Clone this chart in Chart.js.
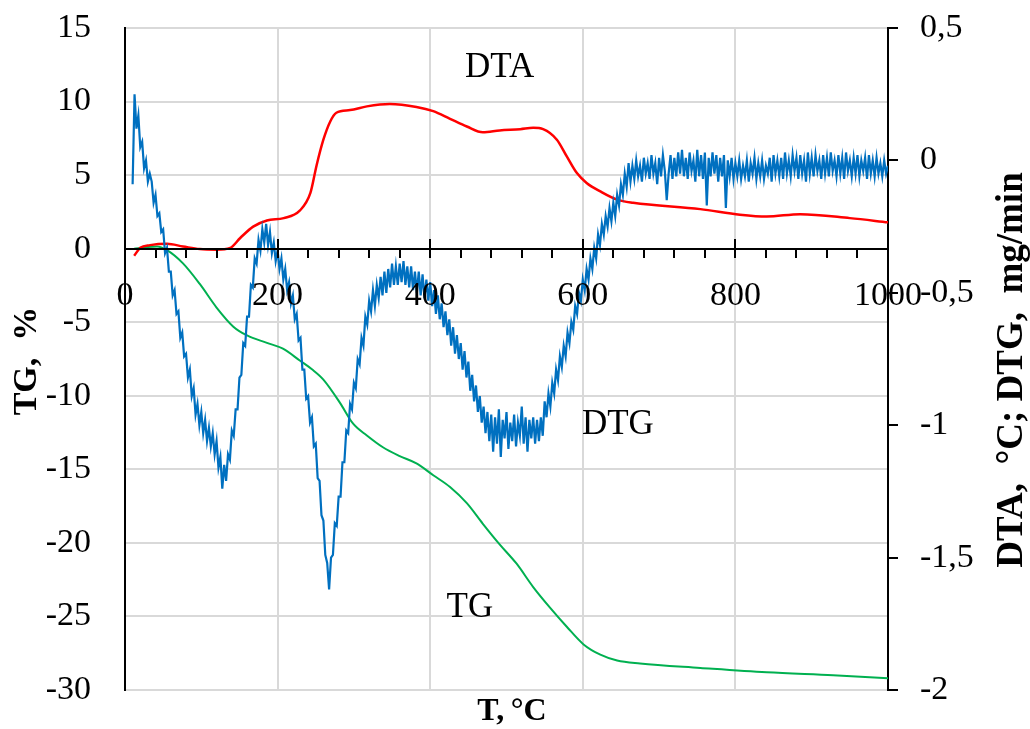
<!DOCTYPE html>
<html>
<head>
<meta charset="utf-8">
<script src="https://cdn.jsdelivr.net/npm/chart.js@4.4.1/dist/chart.umd.min.js"></script>
<style>
  html, body { margin: 0; padding: 0; background: #fff; }
  #wrap { width: 1030px; height: 729px; position: relative; }
</style>
</head>
<body>
<div id="wrap"><canvas id="chart" width="1030" height="729"></canvas></div>
<script>
// TG / DTA / DTG thermal analysis curves.
// TG on the left axis (%), DTA and DTG on the right axis.

// --------------------- Data ---------------------
const tgT = [12, 28, 42, 55, 76, 98, 120, 142, 160, 186, 207, 229, 245, 260, 282, 299, 317, 338, 360, 382,
  404, 426, 448, 469, 491, 513, 535, 557, 579, 601, 623, 645, 675, 754, 841, 928, 1000];
const tgV = [0.0, 0.1, 0.15, -0.1, -1.0, -2.4, -4.0, -5.3, -5.9, -6.4, -6.8, -7.6, -8.2, -8.9, -10.5, -11.9, -12.7, -13.5, -14.1, -14.6,
  -15.4, -16.2, -17.3, -18.7, -20.1, -21.4, -23.0, -24.4, -25.7, -26.9, -27.6, -28.0, -28.2, -28.5, -28.8, -29.0, -29.2];

const dtaT = [12, 20, 33, 55, 76, 98, 120, 138, 151, 168, 186, 208, 229, 243, 251, 260, 269, 277, 295, 317,
  347, 382, 404, 426, 448, 469, 491, 518, 535, 548, 566, 579, 592, 605, 623, 645, 666, 754, 806, 841, 885, 950, 1000];
const dtaV = [-0.36, -0.33, -0.32, -0.315, -0.325, -0.335, -0.337, -0.33, -0.293, -0.25, -0.227, -0.218, -0.19, -0.123, -0.02, 0.078, 0.147, 0.18, 0.19, 0.204,
  0.213, 0.202, 0.186, 0.157, 0.128, 0.106, 0.113, 0.118, 0.123, 0.118, 0.078, 0.015, -0.047, -0.085, -0.117, -0.148, -0.16, -0.184, -0.205, -0.212, -0.203, -0.218, -0.234];

const dtgStart = 10, dtgStep = 2.5;
const dtgV = [
  -0.09, 0.25, 0.12, 0.17, 0.05, 0.07, -0.03, 0.00, -0.08, -0.05,       // 10
  -0.08, -0.16, -0.13, -0.21, -0.20, -0.27, -0.26, -0.35, -0.33, -0.42, // 35
  -0.42, -0.51, -0.49, -0.58, -0.57, -0.67, -0.65, -0.74, -0.73, -0.82, // 60
  -0.79, -0.89, -0.86, -0.96, -0.92, -1.00, -0.95, -1.03, -0.98, -1.06, // 85
  -1.01, -1.08, -1.03, -1.11, -1.06, -1.16, -1.12, -1.24, -1.15, -1.21, // 110
  -1.11, -1.13, -1.02, -1.04, -0.94, -0.94, -0.82, -0.81, -0.69, -0.70, // 135
  -0.59, -0.59, -0.47, -0.48, -0.37, -0.39, -0.30, -0.34, -0.26, -0.31, // 160
  -0.24, -0.32, -0.27, -0.35, -0.31, -0.38, -0.34, -0.41, -0.37, -0.45, // 185
  -0.41, -0.49, -0.46, -0.54, -0.51, -0.60, -0.58, -0.68, -0.67, -0.79, // 210
  -0.79, -0.90, -0.89, -0.99, -0.97, -1.08, -1.07, -1.20, -1.21, -1.34, // 235
  -1.36, -1.49, -1.52, -1.62, -1.50, -1.49, -1.37, -1.38, -1.27, -1.27, // 260
  -1.14, -1.14, -1.02, -1.03, -0.92, -0.94, -0.84, -0.86, -0.75, -0.77, // 285
  -0.67, -0.70, -0.59, -0.62, -0.53, -0.57, -0.49, -0.55, -0.47, -0.52, // 310
  -0.44, -0.51, -0.42, -0.50, -0.41, -0.48, -0.39, -0.47, -0.40, -0.47, // 335
  -0.39, -0.46, -0.38, -0.47, -0.40, -0.48, -0.40, -0.49, -0.42, -0.50, // 360
  -0.42, -0.51, -0.43, -0.52, -0.45, -0.53, -0.46, -0.55, -0.49, -0.58, // 385
  -0.51, -0.60, -0.54, -0.63, -0.57, -0.66, -0.60, -0.70, -0.63, -0.73, // 410
  -0.66, -0.75, -0.69, -0.79, -0.72, -0.82, -0.76, -0.87, -0.81, -0.91, // 435
  -0.85, -0.95, -0.89, -0.99, -0.93, -1.03, -0.95, -1.06, -0.96, -1.10, // 460
  -0.97, -1.07, -0.94, -1.12, -0.98, -1.05, -0.95, -1.09, -0.99, -1.06, // 485
  -0.96, -1.08, -0.99, -1.04, -0.93, -1.07, -0.97, -1.10, -0.98, -1.05, // 510
  -0.97, -1.07, -0.98, -1.06, -0.97, -1.04, -0.91, -0.97, -0.88, -0.93, // 535
  -0.84, -0.88, -0.79, -0.83, -0.74, -0.78, -0.70, -0.74, -0.65, -0.69, // 560
  -0.61, -0.64, -0.55, -0.58, -0.50, -0.53, -0.45, -0.49, -0.41, -0.45, // 585
  -0.37, -0.41, -0.33, -0.37, -0.28, -0.32, -0.24, -0.28, -0.21, -0.25, // 610
  -0.18, -0.23, -0.16, -0.21, -0.13, -0.17, -0.09, -0.13, -0.05, -0.10, // 635
  -0.01, -0.08, -0.02, -0.07, 0.00, -0.06, -0.02, -0.08, 0.01, -0.05,   // 660
  -0.01, -0.07, 0.02, -0.05, -0.01, -0.09, 0.01, -0.06, 0.02, -0.04,    // 685
  -0.15, -0.05, 0.02, -0.07, 0.01, -0.06, 0.03, -0.05, 0.04, -0.06,     // 710
  0.01, -0.07, 0.03, -0.04, 0.00, -0.08, 0.04, -0.06, 0.02, -0.07,      // 735
  0.03, -0.17, 0.01, -0.06, 0.03, -0.05, 0.02, -0.08, 0.01, -0.06,      // 760
  0.02, -0.18, 0.00, -0.06, 0.01, -0.07, -0.01, -0.06, 0.00, -0.07,     // 785
  -0.02, -0.06, 0.00, -0.08, -0.01, -0.05, 0.01, -0.07, -0.01, -0.06,   // 810
  0.00, -0.07, -0.02, -0.05, 0.01, -0.08, 0.02, -0.05, 0.00, -0.06,     // 835
  0.01, -0.07, 0.03, -0.05, 0.00, -0.06, 0.02, -0.04, 0.01, -0.07,      // 860
  0.02, -0.05, 0.00, -0.08, 0.03, -0.05, 0.01, -0.06, 0.02, -0.04,      // 885
  0.00, -0.07, 0.02, -0.05, 0.01, -0.06, 0.03, -0.04, 0.00, -0.06,      // 910
  0.02, -0.05, 0.01, -0.07, 0.03, -0.04, 0.00, -0.06, 0.01, -0.05,      // 935
  0.02, -0.06, 0.00, -0.04, 0.01, -0.07, 0.02, -0.05, 0.00, -0.06,      // 960
  0.01, -0.05, -0.01, -0.06, 0.00, -0.05, -0.02                         // 985-1000
];

// Axis ranges / labels
const xMin = 0, xMax = 1000, xStep = 200, xMinorStep = 40;
const tgMin = -30, tgMax = 15, tgStep = 5;
const rMin = -2, rMax = 0.5, rStep = 0.5;
const xTitle = 'T,\u2009°C';
const tgTitle = 'TG,  %';
const rTitle = 'DTA,  °C; DTG,  mg/min';
// curve labels: [text, T, TG-axis value]
const curveLabels = [['DTA', 491, 12.3], ['DTG', 646, -12.0], ['TG', 452, -24.4]];

// --------------------- Helpers ---------------------
const pts = (xs, ys) => xs.map((x, i) => ({ x, y: ys[i] }));
const dtgPts = dtgV.map((v, i) => ({ x: dtgStart + i * dtgStep, y: v }));
const SERIF = "'Liberation Serif', 'Times New Roman', serif";
const GRID = '#d9d9d9';
const NONE = 'rgba(0,0,0,0)';

// --------------------- Decoration plugin ---------------------
// x axis sits on TG = 0, so its line, ticks and labels are drawn here;
// right-axis tick marks too (Chart.js tick length is used only as label offset)
const decor = {
  id: 'decor',
  afterDatasetsDraw(chart) {
    const { ctx, chartArea, scales: { x, y, y2 } } = chart;
    const y0 = Math.round(y.getPixelForValue(0));
    ctx.save();
    ctx.strokeStyle = '#000';
    ctx.lineWidth = 2;
    ctx.beginPath();
    ctx.moveTo(chartArea.left, y0);
    ctx.lineTo(chartArea.right, y0);
    ctx.stroke();
    for (let v = xMin; v <= xMax; v += xMinorStep) {
      const px = Math.round(x.getPixelForValue(v));
      const major = v % xStep === 0;
      ctx.beginPath();
      ctx.moveTo(px, major ? y0 - 10 : y0);
      ctx.lineTo(px, y0 + 9);
      ctx.stroke();
    }
    y2.ticks.forEach(t => {
      const py = Math.round(y2.getPixelForValue(t.value));
      ctx.beginPath();
      ctx.moveTo(chartArea.right, py);
      ctx.lineTo(chartArea.right + 10, py);
      ctx.stroke();
    });
    ctx.fillStyle = '#000';
    ctx.textAlign = 'center';
    ctx.textBaseline = 'middle';
    ctx.font = `34px ${SERIF}`;
    for (let v = xMin; v <= xMax; v += xStep) {
      ctx.fillText(String(v), x.getPixelForValue(v), y0 + 47);
    }
    ctx.restore();
  },
  afterDraw(chart) {
    const { ctx, scales: { x, y } } = chart;
    ctx.save();
    ctx.fillStyle = '#000';
    ctx.textAlign = 'center';
    ctx.textBaseline = 'middle';
    // curve labels
    ctx.font = `35px ${SERIF}`;
    curveLabels.forEach(([t, tx, ty]) => ctx.fillText(t, x.getPixelForValue(tx), y.getPixelForValue(ty)));
    // axis titles
    ctx.font = `bold 32px ${SERIF}`;
    ctx.fillText(xTitle, 512, 712);
    ctx.font = `bold 34px ${SERIF}`;
    ctx.save();
    ctx.translate(27, 361);
    ctx.rotate(-Math.PI / 2);
    ctx.fillText(tgTitle, 0, 0);
    ctx.restore();
    ctx.font = `bold 37px ${SERIF}`;
    ctx.save();
    ctx.translate(1012, 370);
    ctx.rotate(-Math.PI / 2);
    ctx.fillText(rTitle, 0, 0);
    ctx.restore();
    ctx.restore();
  }
};

// --------------------- Chart ---------------------
new Chart(document.getElementById('chart'), {
  type: 'line',
  data: {
    datasets: [
      { label: 'DTG', data: dtgPts, yAxisID: 'y2', borderColor: '#0070c0', borderWidth: 2.2, tension: 0, pointRadius: 0 },
      { label: 'DTA', data: pts(dtaT, dtaV), yAxisID: 'y2', borderColor: '#ff0000', borderWidth: 2.5, cubicInterpolationMode: 'monotone', pointRadius: 0 },
      { label: 'TG', data: pts(tgT, tgV), yAxisID: 'y', borderColor: '#00b050', borderWidth: 2, cubicInterpolationMode: 'monotone', pointRadius: 0 }
    ]
  },
  options: {
    responsive: false,
    animation: false,
    events: [],
    layout: { padding: { top: 28, bottom: 39 } },
    plugins: { legend: { display: false }, tooltip: { enabled: false } },
    scales: {
      x: {
        type: 'linear', position: 'bottom', min: xMin, max: xMax,
        ticks: { stepSize: xStep, display: false },
        grid: { color: (c) => (c.tick && (c.tick.value === xMin || c.tick.value === xMax)) ? NONE : GRID, lineWidth: 2, drawTicks: false },
        border: { display: false }
      },
      y: {
        type: 'linear', position: 'left', min: tgMin, max: tgMax,
        afterFit: (s) => { s.width = 125; },
        ticks: { stepSize: tgStep, color: '#000', font: { family: SERIF, size: 34 }, padding: 0 },
        grid: { color: GRID, lineWidth: 2, drawTicks: true, tickLength: 34, tickColor: NONE },
        border: { display: true, color: '#000', width: 2 }
      },
      y2: {
        type: 'linear', position: 'right', min: rMin, max: rMax,
        afterFit: (s) => { s.width = 142; },
        ticks: { stepSize: rStep, color: '#000', font: { family: SERIF, size: 34 }, padding: 0,
          callback: (v) => String(v).replace('.', ',') },
        grid: { drawOnChartArea: false, drawTicks: true, tickLength: 32, tickColor: NONE },
        border: { display: true, color: '#000', width: 2 }
      }
    }
  },
  plugins: [decor]
});
</script>
</body>
</html>
